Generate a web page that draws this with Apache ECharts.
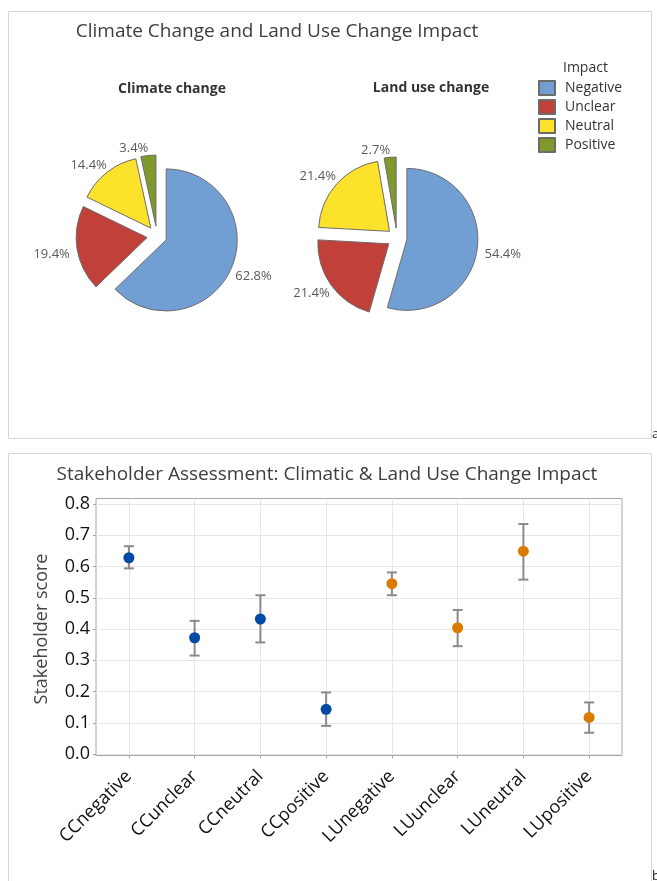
<!DOCTYPE html>
<html>
<head>
<meta charset="utf-8">
<script src="https://cdn.jsdelivr.net/npm/echarts@6/dist/echarts.min.js"></script>
<style>
html,body{margin:0;padding:0;background:#fff;}
#c{width:657px;height:881px;}
</style>
</head>
<body>
<div id="c"></div>
<script>
// ---------- data ----------
const impactLevels = ['Negative', 'Unclear', 'Neutral', 'Positive'];
const impactColors = ['#729fd3', '#c2403a', '#fde22b', '#7f9a2b'];
const climateShares = [62.8, 19.4, 14.4, 3.4];
const landUseShares = [54.4, 21.4, 21.4, 2.7];

const categories = ['CCnegative', 'CCunclear', 'CCneutral', 'CCpositive',
                    'LUnegative', 'LUunclear', 'LUneutral', 'LUpositive'];
const ccMean = [0.628, 0.372, 0.432, 0.143];
const ccLow  = [0.594, 0.315, 0.357, 0.090];
const ccHigh = [0.665, 0.426, 0.508, 0.197];
const luMean = [0.545, 0.404, 0.649, 0.117];
const luLow  = [0.508, 0.345, 0.558, 0.068];
const luHigh = [0.581, 0.461, 0.736, 0.165];
const yMin = 0, yMax = 0.8, yStep = 0.1;

// ---------- styling ----------
const FONT = "'Open Sans', 'Noto Sans', sans-serif";
const PIE_R = 71, EXPLODE = 10;
const LABEL_FONT_SIZE = 13;
const climateCenter = [157, 236];
const landCenter = [397, 238];

const measureCtx = document.createElement('canvas').getContext('2d');
function textWidth(t) {
  measureCtx.font = LABEL_FONT_SIZE + "px 'Open Sans'";
  return measureCtx.measureText(t).width;
}

function pieSeries(name, center, shares) {
  return {
    type: 'pie', name: name, center: center, radius: PIE_R,
    startAngle: 90, clockwise: true,
    selectedMode: 'multiple', selectedOffset: EXPLODE,
    avoidLabelOverlap: false, silent: true,
    emphasis: { disabled: true },
    itemStyle: { borderColor: '#6b6b6b', borderWidth: 1 },
    label: { show: false },
    labelLine: { show: false },
    data: impactLevels.map((n, i) => ({ name: n, value: shares[i], selected: true, itemStyle: { color: impactColors[i] } }))
  };
}

// percentage labels: label box corner set against the slice's outer arc at its mid-angle
function pieLabelSeries(name, center, shares) {
  const total = shares.reduce((a, b) => a + b, 0);
  return {
    type: 'custom', name: name, coordinateSystem: 'none', silent: true, z: 5,
    data: shares.map((v, i) => [i, v]),
    renderItem: function (params, api) {
      const idx = api.value(0);
      const v = api.value(1);
      let cum = 0;
      for (let i = 0; i < idx; i++) cum += shares[i];
      const mid = (cum + v / 2) / total * 2 * Math.PI;
      const dx = Math.sin(mid), dy = -Math.cos(mid);
      const text = v.toFixed(1) + '%';
      const w = textWidth(text), h = LABEL_FONT_SIZE + 1;
      const arcX = center[0] + dx * (EXPLODE + PIE_R);
      const arcY = center[1] + dy * (EXPLODE + PIE_R);
      const gap = 8 * Math.pow(dx, 8);
      const vf = Math.max(-1, Math.min(1, dy / 0.25));
      return {
        type: 'text',
        x: arcX + dx * gap + Math.sign(dx) * w / 2,
        y: arcY + dy * gap + vf * h / 2,
        style: { text: text, fill: '#5a5a5a', fontSize: LABEL_FONT_SIZE, fontFamily: FONT,
                 align: 'center', verticalAlign: 'middle' }
      };
    }
  };
}

function renderErrorBar(params, api) {
  const x = api.value(0);
  const lo = api.coord([x, api.value(1)]);
  const hi = api.coord([x, api.value(2)]);
  const half = 5;
  const style = { stroke: '#8a8a8a', lineWidth: 2, fill: null };
  return {
    type: 'group', children: [
      { type: 'line', shape: { x1: lo[0], y1: lo[1], x2: hi[0], y2: hi[1] }, style: style },
      { type: 'line', shape: { x1: lo[0] - half, y1: lo[1], x2: lo[0] + half, y2: lo[1] }, style: style },
      { type: 'line', shape: { x1: hi[0] - half, y1: hi[1], x2: hi[0] + half, y2: hi[1] }, style: style }
    ]
  };
}

const errData = ccMean.map((v, i) => [i, ccLow[i], ccHigh[i]])
  .concat(luMean.map((v, i) => [i + 4, luLow[i], luHigh[i]]));

const titleBase = { padding: 0, textAlign: 'center', textVerticalAlign: 'middle' };

const option = {
  animation: false,
  color: impactColors,
  textStyle: { fontFamily: FONT },
  title: [
    Object.assign({}, titleBase, { text: 'Climate Change and Land Use Change Impact', left: 277, top: 32,
      textStyle: { fontSize: 19, fontWeight: 'normal', color: '#3d3d3d', fontFamily: FONT } }),
    Object.assign({}, titleBase, { text: 'Climate change', left: 172, top: 89,
      textStyle: { fontSize: 14, fontWeight: 'bold', color: '#333', fontFamily: FONT } }),
    Object.assign({}, titleBase, { text: 'Land use change', left: 431, top: 88,
      textStyle: { fontSize: 14, fontWeight: 'bold', color: '#333', fontFamily: FONT } }),
    Object.assign({}, titleBase, { text: 'Impact', left: 563, top: 68, textAlign: 'left',
      textStyle: { fontSize: 14, fontWeight: 'normal', color: '#333', fontFamily: FONT } }),
    Object.assign({}, titleBase, { text: 'Stakeholder Assessment: Climatic & Land Use Change Impact', left: 327, top: 475,
      textStyle: { fontSize: 19, fontWeight: 'normal', color: '#3d3d3d', fontFamily: FONT } }),
    Object.assign({}, titleBase, { text: 'a', left: 652, top: 434, textAlign: 'left',
      textStyle: { fontSize: 13, fontWeight: 'normal', color: '#222', fontFamily: FONT } }),
    Object.assign({}, titleBase, { text: 'b', left: 652, top: 876, textAlign: 'left',
      textStyle: { fontSize: 13, fontWeight: 'normal', color: '#222', fontFamily: FONT } })
  ],
  legend: {
    orient: 'vertical', left: 538, top: 80, padding: 0,
    itemWidth: 16, itemHeight: 14, itemGap: 3, icon: 'rect',
    selectedMode: false, data: impactLevels,
    textStyle: { fontSize: 14, color: '#333', fontFamily: FONT, padding: [0, 0, 0, 5] }
  },
  graphic: [
    { type: 'rect', silent: true, shape: { x: 8.5, y: 11.5, width: 643, height: 427 },
      style: { fill: null, stroke: '#d6d6d6', lineWidth: 1 } },
    { type: 'rect', silent: true, shape: { x: 8.5, y: 453.5, width: 643, height: 440 },
      style: { fill: null, stroke: '#d6d6d6', lineWidth: 1 } }
  ],
  grid: [
    { left: 96, right: 35, top: 504, bottom: 127 },
    { left: 96, right: 35, top: 498.5, bottom: 125.5, show: true, borderColor: '#a6a6a6', borderWidth: 1, backgroundColor: 'transparent' }
  ],
  xAxis: [
    { gridIndex: 0, type: 'category', data: categories, boundaryGap: true,
      axisLine: { show: false }, axisTick: { show: false }, axisLabel: { show: false }, splitLine: { show: false } },
    { gridIndex: 1, type: 'category', data: categories, boundaryGap: true,
      axisLine: { show: true, lineStyle: { color: '#a6a6a6' } },
      axisTick: { show: true, alignWithLabel: true, length: 3, lineStyle: { color: '#a6a6a6' } },
      axisLabel: { rotate: 45, margin: 18, fontSize: 18, color: '#111', interval: 0, fontFamily: FONT },
      splitLine: { show: true, alignWithLabel: true, interval: 0, lineStyle: { color: '#e6e6e6' } } }
  ],
  yAxis: [
    { gridIndex: 0, type: 'value', min: yMin, max: yMax, interval: yStep,
      axisLine: { show: false },
      axisTick: { show: true, length: 3, lineStyle: { color: '#a6a6a6' } },
      axisLabel: { fontSize: 18, color: '#111', margin: 6, fontFamily: FONT, formatter: v => v.toFixed(1) },
      splitLine: { show: true, lineStyle: { color: '#e6e6e6' } },
      name: 'Stakeholder score', nameLocation: 'middle', nameGap: 45,
      nameTextStyle: { fontSize: 18, color: '#444', fontFamily: FONT } },
    { gridIndex: 1, type: 'value', show: false, min: 0, max: 1 }
  ],
  series: [
    pieSeries('Climate change', climateCenter, climateShares),
    pieSeries('Land use change', landCenter, landUseShares),
    pieLabelSeries('Climate change labels', climateCenter, climateShares),
    pieLabelSeries('Land use change labels', landCenter, landUseShares),
    { type: 'custom', name: 'CI', xAxisIndex: 0, yAxisIndex: 0, silent: true, z: 2,
      renderItem: renderErrorBar, encode: { x: 0, y: [1, 2] }, data: errData },
    { type: 'scatter', name: 'CC', xAxisIndex: 0, yAxisIndex: 0, z: 3, symbolSize: 11,
      itemStyle: { color: '#0049a8', opacity: 1 }, data: ccMean.map((v, i) => [i, v]) },
    { type: 'scatter', name: 'LU', xAxisIndex: 0, yAxisIndex: 0, z: 3, symbolSize: 11,
      itemStyle: { color: '#d97b00', opacity: 1 }, data: luMean.map((v, i) => [i + 4, v]) }
  ]
};

const chart = echarts.init(document.getElementById('c'), null, { renderer: 'canvas' });
chart.setOption(option);
</script>
</body>
</html>
